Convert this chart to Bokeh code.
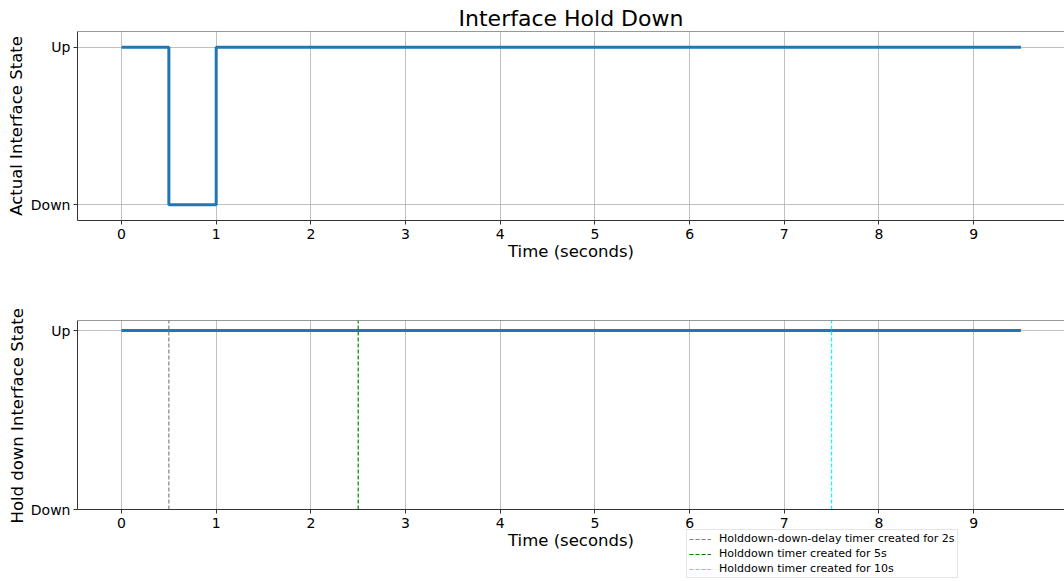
from bokeh.plotting import figure
from bokeh.models import Range1d, FixedTicker, Span, Legend, LegendItem, Title
from bokeh.layouts import column
from bokeh.embed import file_html
from bokeh.resources import INLINE

# ---- data ----
actual_t = [0.0, 0.5, 1.0, 9.5]
actual_state = [1, 0, 1, 1]
hold_t = [0.0, 9.5]
hold_state = [1, 1]
event_t = [0.5, 2.5, 7.5]
event_labels = ["Holddown-down-delay timer created for 2s",
                "Holddown timer created for 5s",
                "Holddown timer created for 10s"]
event_colors = ["#808080", "#008000", "#00ffff"]
state_ticks = [0, 1]
state_labels = {0: "Down", 1: "Up"}
x_ticks = list(range(0, 10))

FONT = "DejaVu Sans"
BLUE = "#1f77b4"
GRID = "#b0b0b0"
SPINE = "#333333"
X_START, X_END = -0.465, 9.96


def style(p, ylabel, y_top):
    p.outline_line_color = None
    p.xaxis.axis_label = "Time (seconds)"
    p.yaxis.axis_label = ylabel
    for ax in (p.xaxis[0], p.yaxis[0]):
        ax.axis_label_text_font = FONT
        ax.axis_label_text_font_size = "16.5px"
        ax.axis_label_text_font_style = "normal"
        ax.axis_label_text_color = "black"
        ax.major_label_text_font = FONT
        ax.major_label_text_font_size = "14px"
        ax.major_label_text_color = "black"
        ax.axis_line_color = SPINE
        ax.major_tick_line_color = SPINE
        ax.major_tick_out = 4
        ax.major_tick_in = 0
        ax.minor_tick_line_color = None
    p.xaxis.ticker = FixedTicker(ticks=x_ticks)
    p.yaxis.ticker = FixedTicker(ticks=state_ticks)
    p.yaxis.major_label_overrides = state_labels
    p.xaxis.axis_label_standoff = 0
    p.yaxis.axis_label_standoff = 2
    p.xaxis.major_label_standoff = 4
    p.yaxis.major_label_standoff = 3
    p.xgrid.ticker = FixedTicker(ticks=x_ticks)
    p.ygrid.ticker = FixedTicker(ticks=state_ticks)
    p.grid.grid_line_color = GRID
    p.grid.grid_line_alpha = 0.8
    p.grid.grid_line_width = 1
    p.add_layout(Span(location=y_top, dimension="width",
                      line_color=SPINE, line_width=1))


# ---- top figure ----
p1 = figure(width=1064, height=279, output_backend="svg", toolbar_location=None,
            x_range=Range1d(X_START, X_END), y_range=Range1d(-0.1, 1.1),
            min_border_left=77, min_border_right=0, min_border_top=31,
            min_border_bottom=59, title="Interface Hold Down")
p1.title.text_font = FONT
p1.title.text_font_size = "22px"
p1.title.text_font_style = "normal"
p1.title.text_color = "black"
p1.title.align = "center"
p1.title.standoff = 2
style(p1, "Actual Interface State", 1.1)
p1.step(actual_t, actual_state, mode="after", line_color=BLUE, line_width=3)

# ---- bottom figure ----
Y2_TOP = 1.056
p2 = figure(width=1064, height=302, output_backend="svg", toolbar_location=None,
            x_range=Range1d(X_START, X_END), y_range=Range1d(-0.402, Y2_TOP),
            min_border_left=77, min_border_right=0, min_border_top=41,
            min_border_bottom=0)
style(p2, None, Y2_TOP)
p2.xaxis.fixed_location = state_ticks[0]
p2.yaxis.bounds = (state_ticks[0], Y2_TOP)
p2.xgrid.cross_bounds = (state_ticks[0], Y2_TOP)
ylab2 = Title(text="Hold down Interface State", align="left", offset=58,
              text_font=FONT, text_font_size="16.5px", text_font_style="normal",
              text_color="black", standoff=2)
p2.add_layout(ylab2, "left")
p2.line(hold_t, hold_state, line_color=BLUE, line_width=3)

items = []
for t, lab, col in zip(event_t, event_labels, event_colors):
    r = p2.segment(x0=[t], y0=[state_ticks[0]], x1=[t], y1=[Y2_TOP],
                   line_color=col, line_width=1.2, line_dash="4 2")
    items.append(LegendItem(label=lab, renderers=[r]))

legend = Legend(items=items, location=(609, 3))
legend.label_text_font = FONT
legend.label_text_font_size = "11px"
legend.label_text_color = "black"
legend.label_height = 12
legend.glyph_height = 12
legend.glyph_width = 22
legend.label_standoff = 8
legend.spacing = 2
legend.padding = 2
legend.margin = 0
legend.border_line_color = "#cccccc"
legend.border_line_width = 1
legend.background_fill_color = "white"
legend.background_fill_alpha = 0.8
p2.add_layout(legend, "center")

layout = column(p1, p2, spacing=0)
open("out.html", "w").write(file_html(layout, INLINE))
